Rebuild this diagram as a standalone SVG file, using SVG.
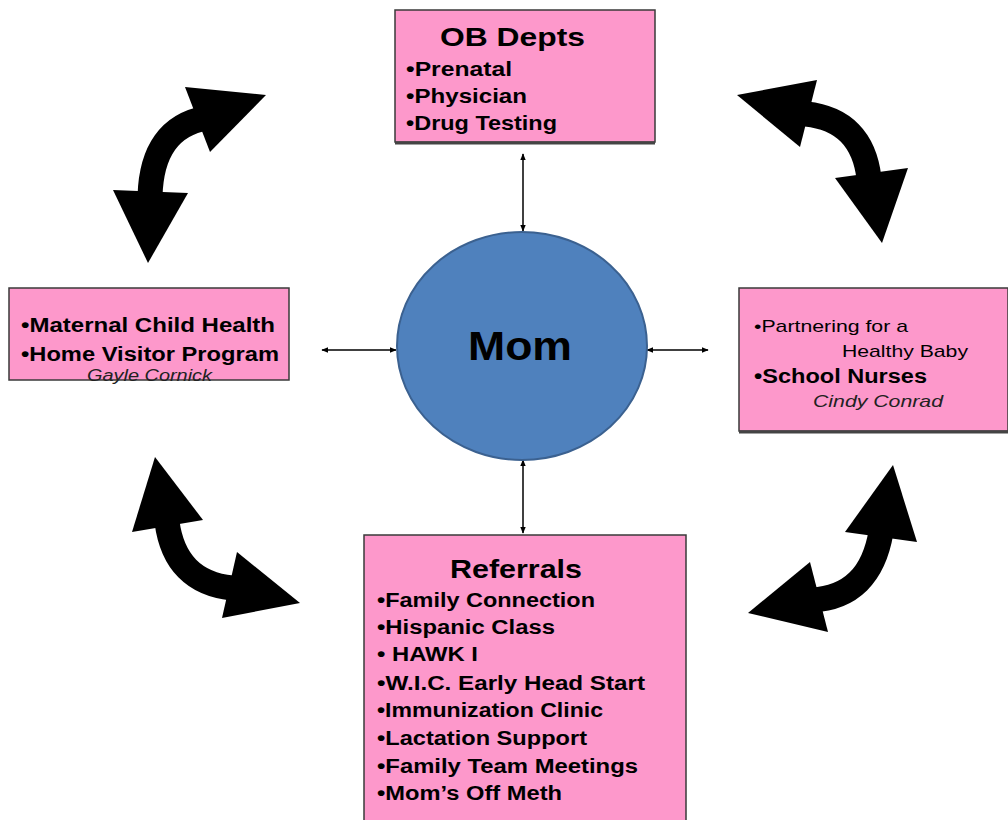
<svg xmlns="http://www.w3.org/2000/svg" width="1008" height="820" viewBox="0 0 1008 820">
<style>
.box{fill:#fd98cb;stroke:#3a3a3a;stroke-width:1.5}
.shadow{stroke:#444;stroke-width:3}
.t{font-family:"Liberation Sans",Arial,sans-serif;fill:#000}
.b{font-weight:bold}
.i{font-style:italic;fill:#222}
.thin{stroke:#000;stroke-width:1.5;fill:none;marker-start:url(#ah);marker-end:url(#ah)}
.shaft{stroke:#000;stroke-width:25;fill:none}
.head{fill:#000}
</style>
<defs>
<marker id="ah" viewBox="0 0 10 10" refX="9" refY="5" markerWidth="7" markerHeight="7" orient="auto-start-reverse" markerUnits="userSpaceOnUse">
<path d="M0,1 L10,5 L0,9 Z" fill="#000"/>
</marker>
</defs>
<rect width="1008" height="820" fill="#fff"/>

<g id="connectors">
<line class="thin" x1="523" y1="231" x2="523" y2="154"/>
<line class="thin" x1="523" y1="460" x2="523" y2="533"/>
<line class="thin" x1="396" y1="350" x2="322" y2="350"/>
<line class="thin" x1="647" y1="350" x2="708" y2="350"/>
<g id="curved-tl">
<path class="shaft" d="M150,196 Q152,128 206,118"/>
<polygon class="head" points="185,87 266,95 210,152"/>
<polygon class="head" points="113,190 188,193 148,263"/>
</g>
<g id="curved-tr">
<path class="shaft" d="M806,114 Q862,120 869,178"/>
<polygon class="head" points="737,95 817,80 800,147"/>
<polygon class="head" points="835,178 908,168 882,243"/>
</g>
<g id="curved-bl">
<path class="shaft" d="M167,522 Q175,582 232,588"/>
<polygon class="head" points="155,457 132,532 203,520"/>
<polygon class="head" points="237,552 300,603 222,618"/>
</g>
<g id="curved-br">
<path class="shaft" d="M881,532 Q870,597 812,600"/>
<polygon class="head" points="893,465 845,532 917,542"/>
<polygon class="head" points="810,562 748,613 828,632"/>
</g>
</g>

<g id="mom">
<ellipse cx="522" cy="346" rx="125" ry="114" fill="#4f81bd" stroke="#3b6190" stroke-width="2"/>
<text class="t b" x="468" y="360" font-size="40" textLength="104" lengthAdjust="spacingAndGlyphs">Mom</text>
</g>

<g id="ob">
<rect class="box" x="395" y="10" width="260" height="132"/>
<line class="shadow" x1="395" y1="143" x2="655" y2="143"/>
<text class="t b" x="440" y="46" font-size="26" textLength="145" lengthAdjust="spacingAndGlyphs">OB Depts</text>
<text class="t b" x="406" y="76" font-size="21" textLength="106" lengthAdjust="spacingAndGlyphs">•Prenatal</text>
<text class="t b" x="406" y="103" font-size="21" textLength="121" lengthAdjust="spacingAndGlyphs">•Physician</text>
<text class="t b" x="406" y="130" font-size="21" textLength="151" lengthAdjust="spacingAndGlyphs">•Drug Testing</text>
</g>

<g id="mch">
<rect class="box" x="9" y="288" width="280" height="92"/>
<text class="t b" x="21" y="332" font-size="20" textLength="254" lengthAdjust="spacingAndGlyphs">•Maternal Child Health</text>
<text class="t b" x="21" y="361" font-size="20" textLength="258" lengthAdjust="spacingAndGlyphs">•Home Visitor Program</text>
<text class="t i" x="87" y="381" font-size="16" textLength="125" lengthAdjust="spacingAndGlyphs">Gayle Cornick</text>
</g>

<g id="phb">
<rect class="box" x="739" y="288" width="269" height="143"/>
<line class="shadow" x1="739" y1="432" x2="1008" y2="432"/>
<text class="t" x="754" y="332" font-size="17" textLength="154" lengthAdjust="spacingAndGlyphs">•Partnering for a</text>
<text class="t" x="842" y="357" font-size="17" textLength="126" lengthAdjust="spacingAndGlyphs">Healthy Baby</text>
<text class="t b" x="754" y="383" font-size="20" textLength="173" lengthAdjust="spacingAndGlyphs">•School Nurses</text>
<text class="t i" x="813" y="407" font-size="17" textLength="130" lengthAdjust="spacingAndGlyphs">Cindy Conrad</text>
</g>

<g id="referrals">
<rect class="box" x="364" y="535" width="322" height="290"/>
<text class="t b" x="450" y="578" font-size="26" textLength="132" lengthAdjust="spacingAndGlyphs">Referrals</text>
<text class="t b" x="377" y="607" font-size="20" textLength="218" lengthAdjust="spacingAndGlyphs">•Family Connection</text>
<text class="t b" x="377" y="634" font-size="20" textLength="178" lengthAdjust="spacingAndGlyphs">•Hispanic Class</text>
<text class="t b" x="377" y="661" font-size="20" textLength="101" lengthAdjust="spacingAndGlyphs">• HAWK I</text>
<text class="t b" x="377" y="690" font-size="20" textLength="268" lengthAdjust="spacingAndGlyphs">•W.I.C. Early Head Start</text>
<text class="t b" x="377" y="717" font-size="20" textLength="226" lengthAdjust="spacingAndGlyphs">•Immunization Clinic</text>
<text class="t b" x="377" y="745" font-size="20" textLength="210" lengthAdjust="spacingAndGlyphs">•Lactation Support</text>
<text class="t b" x="377" y="773" font-size="20" textLength="261" lengthAdjust="spacingAndGlyphs">•Family Team Meetings</text>
<text class="t b" x="377" y="800" font-size="20" textLength="185" lengthAdjust="spacingAndGlyphs">•Mom’s Off Meth</text>
</g>
</svg>
